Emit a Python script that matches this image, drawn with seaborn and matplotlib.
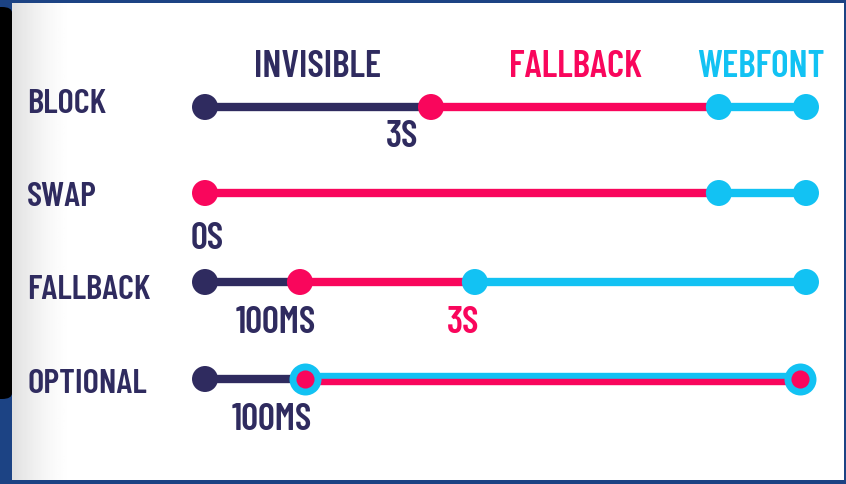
import numpy as np
import pandas as pd
import matplotlib.pyplot as plt
from matplotlib.patches import FancyBboxPatch
import seaborn as sns

# modes of font-display, one row each
modes = ["BLOCK", "SWAP", "FALLBACK", "OPTIONAL"]

# timeline (0 = request, 100 = end) : phase changes for each mode
block_times = [0, 37.6, 85.5, 100]
swap_times = [0, 85.5, 100]
fallback_times = [0, 15.8, 44.9, 100]
optional_times = [0, 16.6, 99]

block_phases = ["invisible", "fallback", "webfont"]
swap_phases = ["fallback", "webfont"]
fallback_phases = ["invisible", "fallback", "webfont"]
optional_phases = ["invisible", "optional"]

headers = ["INVISIBLE", "FALLBACK", "WEBFONT"]

# time labels under the dots
tick_rows = [0, 1, 2, 2, 3]
tick_times = [37.6, 0, 15.8, 44.9, 16.6]
tick_text = ["3S", "0S", "100MS", "3S", "100MS"]
tick_phase = ["invisible", "invisible", "invisible", "fallback", "invisible"]

# layout (pixels from the top)
row_y = [108, 194, 283, 380]
label_base = [113, 206, 299, 393]
tick_base = [147, 249, 333, 333, 430]
tick_dx = [-4.8, 0.3, -4.0, -2.0, -5.5]
header_x = [18.8, 61.7, 92.5]

NAVY = "#2f2b5f"
PINK = "#f9065c"
CYAN = "#12c2f3"
colors = {"invisible": NAVY, "fallback": PINK, "webfont": CYAN}

sns.set_theme(style="white")
plt.rcParams["font.family"] = ["Barlow Condensed", "DejaVu Sans"]

fig = plt.figure(figsize=(8.46, 4.85), dpi=100)
fig.patch.set_facecolor("#1c4384")

# white card with soft grey shade on the left
bg = fig.add_axes([12 / 846, 4 / 485, 831 / 846, 477 / 485])
xs = np.linspace(0, 1, 400)
grad = np.tile(1 - 0.12 * np.clip(1 - xs / 0.07, 0, 1) ** 1.5, (10, 1))
bg.imshow(grad, cmap="gray", vmin=0, vmax=1, aspect="auto", extent=[0, 1, 0, 1])
bg.set_axis_off()

# black rounded bar at the left edge
fig.patches.append(FancyBboxPatch((-12 / 846, 85 / 485), 24 / 846, 392 / 485,
                                  boxstyle="round,pad=0,rounding_size=0.012",
                                  transform=fig.transFigure, facecolor="black",
                                  edgecolor="none", zorder=5))

ax = fig.add_axes([0, 0, 1, 1])
ax.patch.set_alpha(0)
px = 6.01
ax.set_xlim(-205 / px, (846 - 205) / px)
ax.set_ylim(485, 0)
ax.set_axis_off()

rows = [(block_times, block_phases), (swap_times, swap_phases),
        (fallback_times, fallback_phases), (optional_times, optional_phases)]

seg = []
for r, (times, phases) in enumerate(rows):
    for i, ph in enumerate(phases):
        seg.append({"row": r, "x0": times[i], "x1": times[i + 1], "phase": ph})
seg = pd.DataFrame(seg)
seg["y"] = [row_y[r] for r in seg.row]

lw = 6
ms = 350
for _, s in seg.iterrows():
    if s.phase == "optional":
        ax.plot([s.x0, s.x1], [s.y - 3, s.y - 3], color=CYAN, lw=4.6,
                solid_capstyle="butt", zorder=2)
        ax.plot([s.x0, s.x1], [s.y + 3, s.y + 3], color=PINK, lw=4.6,
                solid_capstyle="butt", zorder=2)
    else:
        ax.plot([s.x0, s.x1], [s.y, s.y], color=colors[s.phase], lw=lw,
                solid_capstyle="butt", zorder=2)

# dots at every phase change
dots = []
for r, (times, phases) in enumerate(rows):
    for i, t in enumerate(times):
        ph = phases[i] if i < len(phases) else phases[-1]
        if ph == "optional":
            continue
        dots.append({"y": row_y[r], "t": t, "phase": ph})
dots = pd.DataFrame(dots)
sns.scatterplot(data=dots, x="t", y="y", hue="phase", palette=colors, s=ms,
                linewidth=0, legend=False, ax=ax, zorder=3)

opt = pd.DataFrame({"t": optional_times[1:], "y": [row_y[3]] * (len(optional_times) - 1)})
sns.scatterplot(data=opt, x="t", y="y", color=CYAN, s=530, linewidth=0,
                legend=False, ax=ax, zorder=4)
sns.scatterplot(data=opt, x="t", y="y", color=PINK, s=170, linewidth=0,
                legend=False, ax=ax, zorder=5)
ax.set_ylim(485, 0)

# text
for name, x, ph in zip(headers, header_x, ["invisible", "fallback", "webfont"]):
    ax.text(x, 77, name, color=colors[ph], fontsize=27, fontweight="semibold",
            ha="center", va="baseline")

for m, yb in zip(modes, label_base):
    ax.text(-29.6, yb, m, color=NAVY, fontsize=25, fontweight="semibold",
            ha="left", va="baseline")

for t, txt, ph, dx, yb in zip(tick_times, tick_text, tick_phase, tick_dx, tick_base):
    ax.text(t + dx, yb, txt, color=colors[ph], fontsize=27, fontweight="semibold",
            ha="center", va="baseline")

fig.savefig("out.png", dpi=100, facecolor=fig.get_facecolor())
